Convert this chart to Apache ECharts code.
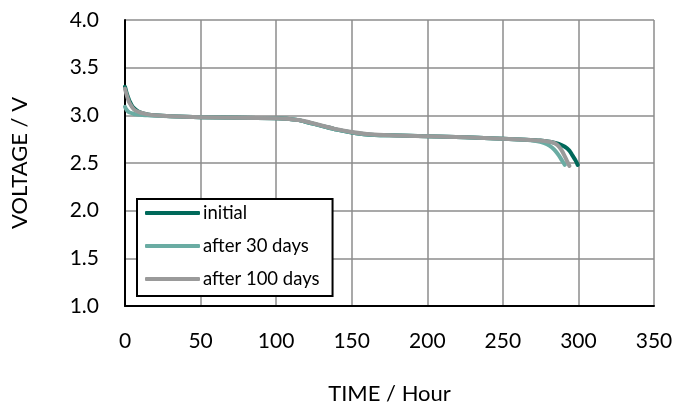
<!DOCTYPE html>
<html>
<head>
<meta charset="utf-8">
<script src="https://cdn.jsdelivr.net/npm/echarts@6/dist/echarts.min.js"></script>
<style>html,body{margin:0;padding:0;background:#fff}#c{width:678px;height:407px}</style>
</head>
<body>
<div id="c"></div>
<script>
const seriesNames = ['initial', 'after 30 days', 'after 100 days'];
const timeInitial = [0, 1, 2, 3, 5, 7, 10, 15, 20, 30, 50, 75, 100, 105, 110, 115, 120, 125, 130, 140, 150, 160, 175, 200, 225, 250, 265, 275, 282, 287, 291, 294, 296, 298, 299.5];
const voltInitial = [3.30, 3.24, 3.19, 3.15, 3.09, 3.06, 3.03, 3.01, 3.00, 2.99, 2.98, 2.975, 2.97, 2.965, 2.96, 2.95, 2.93, 2.91, 2.89, 2.85, 2.82, 2.80, 2.79, 2.78, 2.77, 2.755, 2.745, 2.735, 2.72, 2.70, 2.67, 2.63, 2.58, 2.53, 2.48];
const time30 = [0, 1, 2, 3, 5, 7, 10, 15, 20, 30, 50, 75, 100, 105, 110, 115, 120, 125, 130, 140, 150, 160, 175, 200, 225, 250, 265, 272, 277, 281, 284, 287, 289, 291];
const volt30 = [3.09, 3.06, 3.04, 3.03, 3.02, 3.01, 3.005, 3.00, 2.995, 2.99, 2.98, 2.975, 2.97, 2.965, 2.96, 2.95, 2.93, 2.91, 2.89, 2.85, 2.82, 2.80, 2.79, 2.78, 2.77, 2.755, 2.745, 2.73, 2.71, 2.68, 2.64, 2.58, 2.53, 2.48];
const time100 = [0, 1, 2, 3, 5, 7, 10, 15, 20, 30, 50, 75, 100, 105, 110, 115, 120, 125, 130, 140, 150, 160, 175, 200, 225, 250, 265, 275, 282, 286, 289, 291, 292.5, 294];
const volt100 = [3.28, 3.22, 3.17, 3.13, 3.08, 3.05, 3.03, 3.01, 3.00, 2.99, 2.98, 2.975, 2.97, 2.965, 2.96, 2.95, 2.935, 2.915, 2.895, 2.855, 2.825, 2.805, 2.79, 2.78, 2.77, 2.755, 2.745, 2.735, 2.72, 2.69, 2.63, 2.57, 2.52, 2.47];
const colors = ['#00695a', '#6aaca3', '#9a9a9a'];

const pair = (t, v) => t.map((x, i) => [x, v[i]]);
const datasets = [pair(timeInitial, voltInitial), pair(time30, volt30), pair(time100, volt100)];
const font = 'Lato, "Open Sans", sans-serif';

const chart = echarts.init(document.getElementById('c'));
chart.setOption({
  animation: false,
  grid: { left: 125, right: 24, top: 20, bottom: 101, containLabel: false, outerBoundsMode: 'none' },
  xAxis: {
    type: 'value', min: 0, max: 350, interval: 50,
    name: 'TIME / Hour', nameLocation: 'middle', nameGap: 77,
    nameTextStyle: { fontFamily: font, fontSize: 22, color: '#000' },
    axisLine: { show: true, lineStyle: { color: '#000', width: 2 } },
    axisTick: { show: false },
    axisLabel: { fontFamily: font, fontSize: 21, color: '#000', margin: 25 },
    splitLine: { show: true, lineStyle: { color: '#8c8c8c', width: 1.5 } }
  },
  yAxis: {
    type: 'value', min: 1, max: 4, interval: 0.5,
    name: 'VOLTAGE / V', nameLocation: 'middle', nameGap: 94,
    nameTextStyle: { fontFamily: font, fontSize: 22, color: '#000' },
    axisLine: { show: true, lineStyle: { color: '#000', width: 2 } },
    axisTick: { show: false },
    axisLabel: { fontFamily: font, fontSize: 21, color: '#000', margin: 26,
      formatter: v => v.toFixed(1) },
    splitLine: { show: true, lineStyle: { color: '#8c8c8c', width: 1.5 } }
  },
  legend: {
    orient: 'vertical', left: 137, top: 199,
    backgroundColor: '#fff', borderColor: '#000', borderWidth: 2,
    padding: [4, 13, 7, 8], itemGap: 13,
    itemWidth: 55, itemHeight: 4, icon: 'roundRect',
    textStyle: { fontFamily: font, fontSize: 18.5, color: '#000', lineHeight: 20, padding: [0, 0, 0, -2] },
    data: seriesNames
  },
  series: seriesNames.map((n, i) => ({
    name: n, type: 'line', data: datasets[i], showSymbol: false, symbol: 'none',
    smooth: 0.3,
    lineStyle: { color: colors[i], width: 4, cap: 'round', join: 'round' },
    itemStyle: { color: colors[i] }
  }))
});
</script>
</body>
</html>
